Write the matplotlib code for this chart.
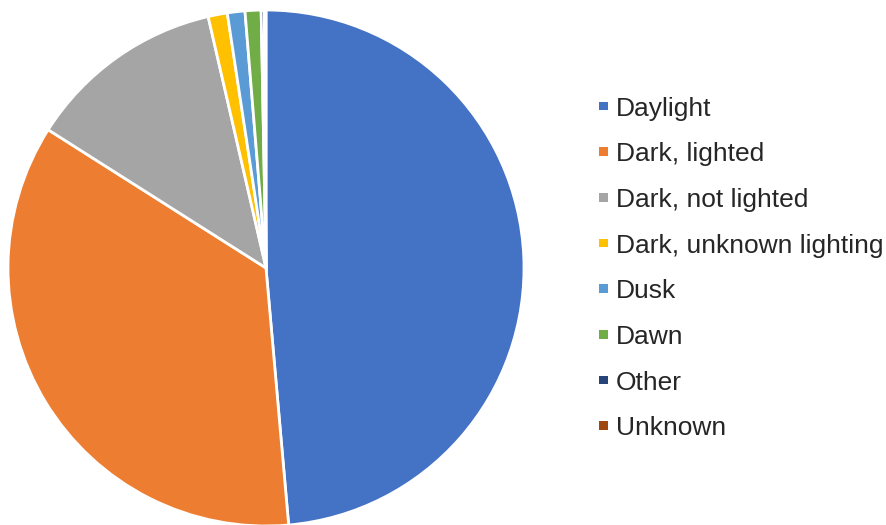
import matplotlib
matplotlib.use('Agg')
import matplotlib.pyplot as plt

# Share of crashes by light condition (%)
labels = ['Daylight', 'Dark, lighted', 'Dark, not lighted', 'Dark, unknown lighting',
          'Dusk', 'Dawn', 'Other', 'Unknown']
shares = [48.6, 35.4, 12.4, 1.2, 1.1, 1.0, 0.2, 0.1]
colors = ['#4472C4', '#ED7D31', '#A5A5A5', '#FFC000',
          '#5B9BD5', '#70AD47', '#264478', '#9E480E']

plt.rcParams['font.family'] = ['Liberation Sans', 'DejaVu Sans']

fig = plt.figure(figsize=(8.87, 5.25), dpi=100)

# pie centred at about (266, 268) px with radius 258 px
W, H = 887, 525
cx, cy, r = 266, 268, 258
ax = fig.add_axes([(cx - r) / W, (H - cy - r) / H, 2 * r / W, 2 * r / H])

wedges, _ = ax.pie(
    shares,
    colors=colors,
    startangle=90,
    counterclock=False,
    wedgeprops=dict(edgecolor='white', linewidth=2),
)
ax.set_xlim(-1, 1)
ax.set_ylim(-1, 1)
ax.set_aspect('equal')

# small square swatches, Excel style
leg = fig.legend(
    wedges, labels,
    loc='center left',
    bbox_to_anchor=(575 / W, 1 - 268.5 / H),
    frameon=False,
    fontsize=19,
    handlelength=0.34,
    handleheight=0.13,
    handletextpad=0.32,
    labelspacing=0.82,
    labelcolor='#262626',
)
for h in leg.legend_handles:
    h.set_edgecolor('none')
    h.set_linewidth(0)

fig.savefig('out.png', dpi=100)
